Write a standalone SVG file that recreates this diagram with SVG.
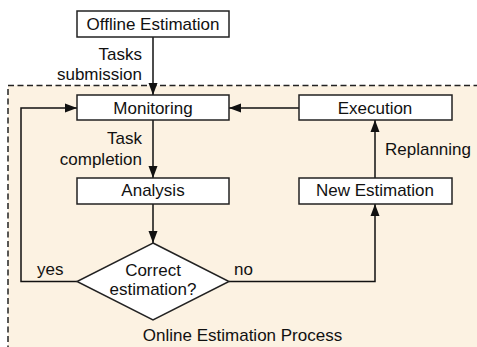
<svg xmlns="http://www.w3.org/2000/svg" width="477" height="347" viewBox="0 0 477 347">
  <style>
    .box { fill: #ffffff; stroke: #222; stroke-width: 1.5; }
    .lbl { font-family: "Liberation Sans", Arial, Helvetica, sans-serif; font-size: 17px; fill: #111; }
    .mid { text-anchor: middle; }
    .end { text-anchor: end; }
    .wire { fill: none; stroke: #111; stroke-width: 1.5; }
  </style>
  <defs>
    <marker id="arrow" viewBox="0 0 12 10" refX="12" refY="5" markerWidth="12" markerHeight="10" markerUnits="userSpaceOnUse" orient="auto">
      <path d="M0,0.5 L12,5 L0,9.5 z" fill="#111"/>
    </marker>
  </defs>

  <rect width="477" height="347" fill="#ffffff"/>

  <!-- online process frame -->
  <g id="online-process">
    <rect x="8" y="85.5" width="480" height="280" fill="#fcf2e2" stroke="#222" stroke-width="1.5" stroke-dasharray="6,3.5"/>
    <text class="lbl mid" x="242.5" y="341">Online Estimation Process</text>
  </g>

  <!-- connectors -->
  <g id="connectors">
    <line class="wire" x1="153" y1="37" x2="153" y2="95" marker-end="url(#arrow)"/>
    <line class="wire" x1="153" y1="120" x2="153" y2="178" marker-end="url(#arrow)"/>
    <line class="wire" x1="153" y1="204" x2="153" y2="243" marker-end="url(#arrow)"/>
    <polyline class="wire" points="77,281.5 21,281.5 21,108 77,108" marker-end="url(#arrow)"/>
    <polyline class="wire" points="229,281.5 375,281.5 375,204" marker-end="url(#arrow)"/>
    <line class="wire" x1="375" y1="178" x2="375" y2="120" marker-end="url(#arrow)"/>
    <line class="wire" x1="299" y1="108" x2="229" y2="108" marker-end="url(#arrow)"/>
    <text class="lbl end" x="142" y="60">Tasks</text>
    <text class="lbl end" x="142" y="80">submission</text>
    <text class="lbl end" x="142" y="144">Task</text>
    <text class="lbl end" x="142" y="165">completion</text>
    <text class="lbl" x="385" y="155">Replanning</text>
    <text class="lbl" x="37" y="275">yes</text>
    <text class="lbl" x="234" y="275">no</text>
  </g>

  <g id="offline-estimation">
    <rect class="box" x="77" y="11" width="152" height="26"/>
    <text class="lbl mid" x="153" y="30">Offline Estimation</text>
  </g>

  <g id="monitoring">
    <rect class="box" x="77" y="95" width="152" height="25"/>
    <text class="lbl mid" x="153" y="113.5">Monitoring</text>
  </g>

  <g id="analysis">
    <rect class="box" x="77" y="178" width="152" height="26"/>
    <text class="lbl mid" x="153" y="196">Analysis</text>
  </g>

  <g id="correct-estimation">
    <polygon class="box" points="153,243 229,281.5 153,320 77,281.5"/>
    <text class="lbl mid" x="153" y="275.5">Correct</text>
    <text class="lbl mid" x="153" y="295">estimation?</text>
  </g>

  <g id="execution">
    <rect class="box" x="299" y="95" width="153" height="25"/>
    <text class="lbl mid" x="375" y="113.5">Execution</text>
  </g>

  <g id="new-estimation">
    <rect class="box" x="299" y="178" width="153" height="26"/>
    <text class="lbl mid" x="375" y="196">New Estimation</text>
  </g>
</svg>
